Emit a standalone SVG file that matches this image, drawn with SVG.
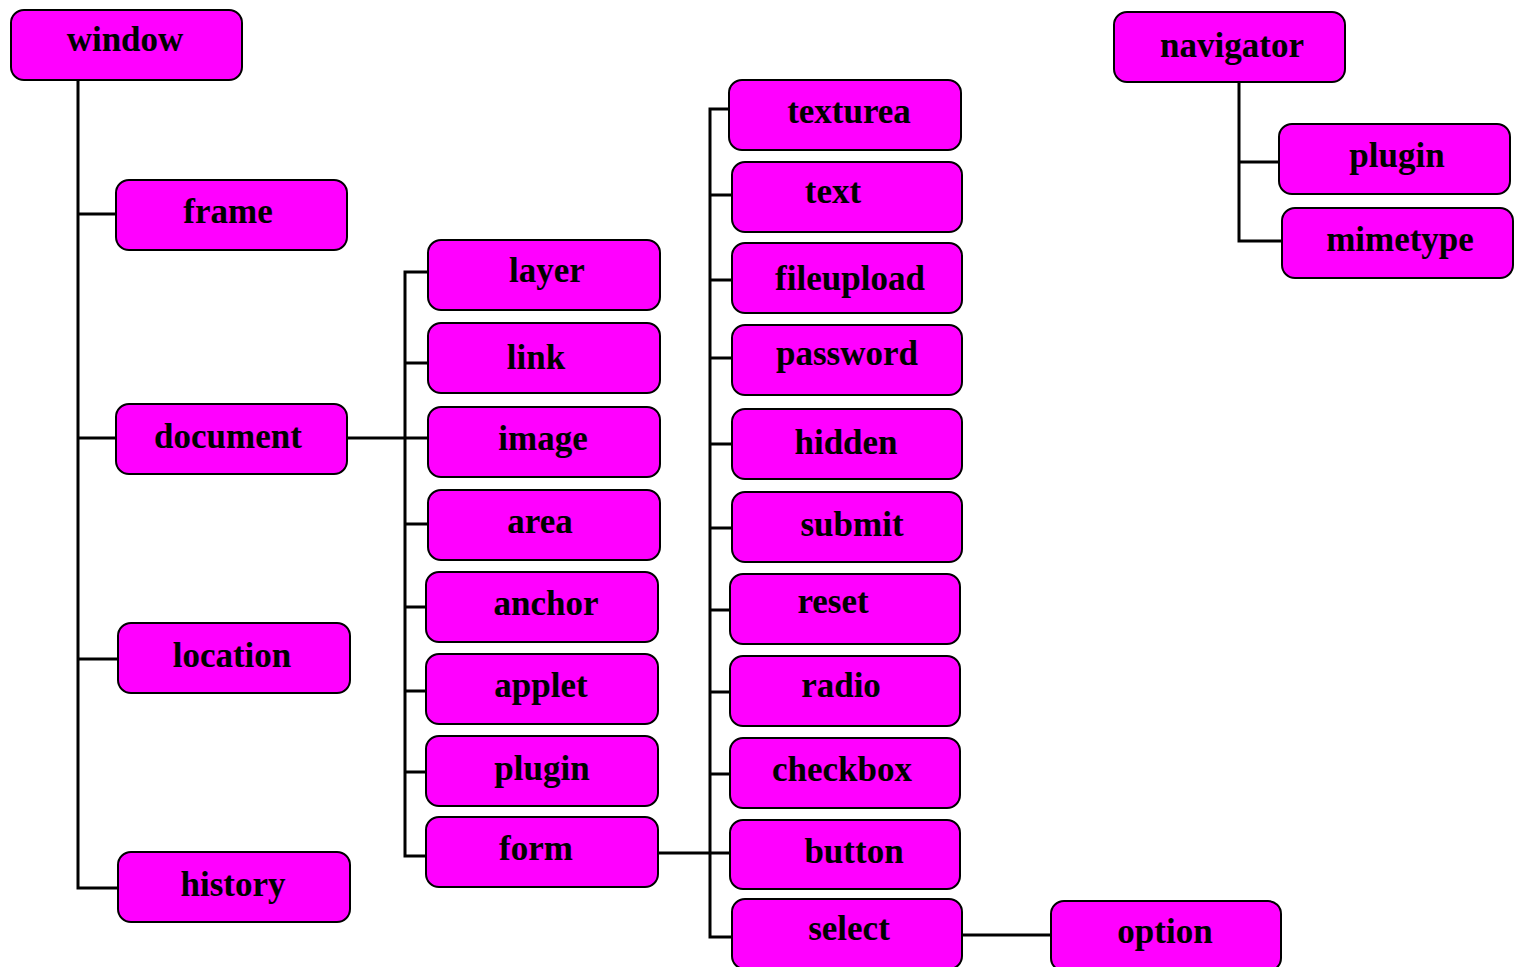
<svg xmlns="http://www.w3.org/2000/svg" width="1519" height="967" viewBox="0 0 1519 967">
<style>
.n rect{fill:#ff00ff;stroke:#000;stroke-width:2}
.n text{font-family:"Liberation Serif",serif;font-weight:bold;font-size:35px;fill:#000;text-anchor:middle}
.c path{fill:none;stroke:#000;stroke-width:3}
</style>
<rect width="1519" height="967" fill="#fff"/>
<g class="c" id="connectors">
<path d="M78 80V888H118M78 214H116M78 438H116M78 659H118"/>
<path d="M347 438H428M428 272H405V856H426M405 363H428M405 524H428M405 607H426M405 691H426M405 772H426"/>
<path d="M658 853H730M730 109H710V937H732M710 195H732M710 280H732M710 358H732M710 444H732M710 528H732M710 610H730M710 692H730M710 774H730"/>
<path d="M962 935H1052"/>
<path d="M1239 82V241H1282M1239 162H1279"/>
</g>
<g class="n" id="n-window"><rect x="11" y="10" width="231" height="70" rx="13"/><text x="125" y="51">window</text></g>
<g class="n" id="n-frame"><rect x="116" y="180" width="231" height="70" rx="13"/><text x="228" y="223">frame</text></g>
<g class="n" id="n-document"><rect x="116" y="404" width="231" height="70" rx="13"/><text x="228" y="448">document</text></g>
<g class="n" id="n-location"><rect x="118" y="623" width="232" height="70" rx="13"/><text x="232" y="667">location</text></g>
<g class="n" id="n-history"><rect x="118" y="852" width="232" height="70" rx="13"/><text x="233" y="896">history</text></g>
<g class="n" id="n-layer"><rect x="428" y="240" width="232" height="70" rx="13"/><text x="547" y="282">layer</text></g>
<g class="n" id="n-link"><rect x="428" y="323" width="232" height="70" rx="13"/><text x="536" y="369">link</text></g>
<g class="n" id="n-image"><rect x="428" y="407" width="232" height="70" rx="13"/><text x="543" y="450">image</text></g>
<g class="n" id="n-area"><rect x="428" y="490" width="232" height="70" rx="13"/><text x="540" y="533">area</text></g>
<g class="n" id="n-anchor"><rect x="426" y="572" width="232" height="70" rx="13"/><text x="546" y="615">anchor</text></g>
<g class="n" id="n-applet"><rect x="426" y="654" width="232" height="70" rx="13"/><text x="541" y="697">applet</text></g>
<g class="n" id="n-plugin1"><rect x="426" y="736" width="232" height="70" rx="13"/><text x="542" y="780">plugin</text></g>
<g class="n" id="n-form"><rect x="426" y="817" width="232" height="70" rx="13"/><text x="536" y="860">form</text></g>
<g class="n" id="n-texturea"><rect x="729" y="80" width="232" height="70" rx="13"/><text x="849" y="123">texturea</text></g>
<g class="n" id="n-text"><rect x="732" y="162" width="230" height="70" rx="13"/><text x="833" y="203">text</text></g>
<g class="n" id="n-fileupload"><rect x="732" y="243" width="230" height="70" rx="13"/><text x="850" y="290">fileupload</text></g>
<g class="n" id="n-password"><rect x="732" y="325" width="230" height="70" rx="13"/><text x="847" y="365">password</text></g>
<g class="n" id="n-hidden"><rect x="732" y="409" width="230" height="70" rx="13"/><text x="846" y="454">hidden</text></g>
<g class="n" id="n-submit"><rect x="732" y="492" width="230" height="70" rx="13"/><text x="852" y="536">submit</text></g>
<g class="n" id="n-reset"><rect x="730" y="574" width="230" height="70" rx="13"/><text x="833" y="613">reset</text></g>
<g class="n" id="n-radio"><rect x="730" y="656" width="230" height="70" rx="13"/><text x="841" y="697">radio</text></g>
<g class="n" id="n-checkbox"><rect x="730" y="738" width="230" height="70" rx="13"/><text x="842" y="781">checkbox</text></g>
<g class="n" id="n-button"><rect x="730" y="820" width="230" height="69" rx="13"/><text x="854" y="863">button</text></g>
<g class="n" id="n-select"><rect x="732" y="899" width="230" height="70" rx="13"/><text x="849" y="940">select</text></g>
<g class="n" id="n-option"><rect x="1051" y="901" width="230" height="70" rx="13"/><text x="1165" y="943">option</text></g>
<g class="n" id="n-navigator"><rect x="1114" y="12" width="231" height="70" rx="13"/><text x="1232" y="57">navigator</text></g>
<g class="n" id="n-plugin2"><rect x="1279" y="124" width="231" height="70" rx="13"/><text x="1397" y="167">plugin</text></g>
<g class="n" id="n-mimetype"><rect x="1282" y="208" width="231" height="70" rx="13"/><text x="1400" y="251">mimetype</text></g>
</svg>
